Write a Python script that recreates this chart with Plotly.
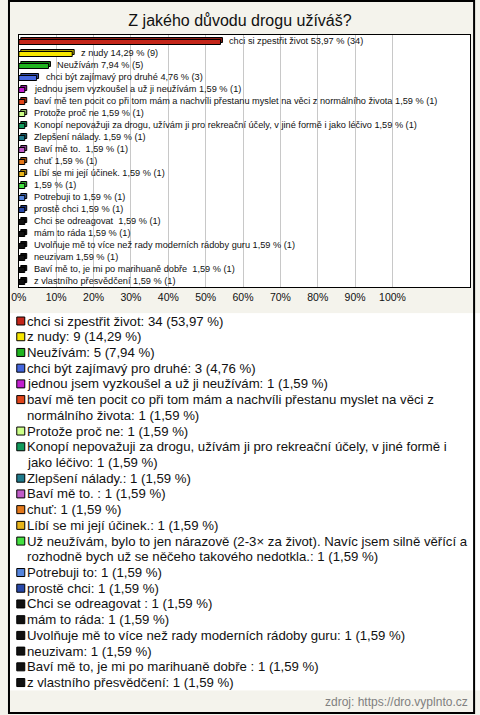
import textwrap
import plotly.graph_objects as go

# ---------------- data ----------------
title_text = "Z jakého důvodu drogu užíváš?"
categories = [
    "chci si zpestřit život",
    "z nudy",
    "Neužívám",
    "chci být zajímavý pro druhé",
    "jednou jsem vyzkoušel a už ji neužívám",
    "baví mě ten pocit co při tom mám a nachvíli přestanu myslet na věci z normálního života",
    "Protože proč ne",
    "Konopí nepovažuji za drogu, užívám ji pro rekreační účely, v jiné formě i jako léčivo",
    "Zlepšení nálady.",
    "Baví mě to. ",
    "chuť",
    "Líbí se mi její účinek.",
    "Už neužívám, bylo to jen nárazově (2-3× za život). Navíc jsem silně věřící a rozhodně bych už se něčeho takového nedotkla.",
    "Potrebuji to",
    "prostě chci",
    "Chci se odreagovat ",
    "mám to ráda",
    "Uvolňuje mě to více než rady moderních rádoby guru",
    "neuzivam",
    "Baví mě to, je mi po marihuaně dobře ",
    "z vlastního přesvědčení",
]
# names as printed next to the bars (the very long answer is left blank there)
chart_names = categories[:12] + [""] + categories[13:]
counts = [34, 9, 5, 3] + [1] * 17
percents = [53.97, 14.29, 7.94, 4.76] + [1.59] * 17
colors = [
    "#c4261a", "#f7e600", "#1fb41f", "#4466dd", "#c21fcf", "#e0441a",
    "#ccff88", "#119a5c", "#1f7a8c", "#c05cc8", "#e4781a", "#e8b41a",
    "#44e040", "#5585dd", "#2848a8", "#111111", "#111111", "#111111",
    "#111111", "#111111", "#111111",
]
tick_values = [0, 10, 20, 30, 40, 50, 60, 70, 80, 90, 100]
tick_labels = [f"{v}%" for v in tick_values]
source_text = "zdroj: https://dro.vyplnto.cz"

# ---------------- helpers ----------------
def fmt(p):
    return f"{p:.2f}".replace(".", ",")

def darker(hexcol, f=0.7):
    h = hexcol.lstrip("#")
    r, g, b = (int(h[i:i + 2], 16) for i in (0, 2, 4))
    return "#%02x%02x%02x" % (int(r * f), int(g * f), int(b * f))

W, H = 480, 715
FONT = "Liberation Sans, Arial, sans-serif"
PX0, PX1, PY0, PY1 = 11, 470, 35, 287
PX_PER_UNIT = 3.8
n = len(categories)
idx = list(range(n))
row_px = (PY1 - PY0) / n
bw = 5 / row_px
dx = 2 / PX_PER_UNIT
dy = 2 / row_px

fig = go.Figure()

# 3D-ish bars: back face (shifted up/right) and front face
fig.add_trace(go.Bar(
    orientation="h", y=idx, x=percents, base=[dx] * n,
    width=bw, offset=-1.5 / row_px - dy,
    marker=dict(color=[darker(c) for c in colors], line=dict(color="#000", width=1)),
    hoverinfo="skip", showlegend=False, xaxis="x", yaxis="y",
))
fig.add_trace(go.Bar(
    orientation="h", y=idx, x=percents,
    width=bw, offset=-1.5 / row_px,
    marker=dict(color=colors, line=dict(color="#000", width=1)),
    showlegend=False, xaxis="x", yaxis="y",
))

annotations = []
for i in idx:
    lbl = (chart_names[i] + " " if chart_names[i] else "") + f"{fmt(percents[i])} % ({counts[i]})"
    annotations.append(dict(
        x=percents[i], y=i, xref="x", yref="y", text=lbl, showarrow=False,
        xanchor="left", yanchor="middle", xshift=7, yshift=0,
        font=dict(family=FONT, size=9.2, color="#111"),
    ))

# ---------------- legend (own layout subplot, one unit = one text line) ----------------
LINE_PX = 15.72
FIRST_LINE_Y = 321
leg_lines = []
mark_y = []
k = 0
for i in idx:
    txt = f"{categories[i]}: {counts[i]} ({fmt(percents[i])} %)"
    parts = textwrap.wrap(txt, width=77, break_on_hyphens=False)
    mark_y.append(k)
    for p in parts:
        leg_lines.append((k, p))
        k += 1
total_lines = k
top_px = FIRST_LINE_Y - LINE_PX / 2
bot_px = top_px + total_lines * LINE_PX

fig.add_trace(go.Scatter(
    x=[13] * n, y=mark_y, mode="markers",
    marker=dict(symbol="square", size=8, color=colors, line=dict(color="#000", width=1)),
    hoverinfo="skip", showlegend=False, xaxis="x2", yaxis="y2",
))
for (ky, p) in leg_lines:
    annotations.append(dict(
        x=17, y=ky, xref="x2", yref="y2", text=p, showarrow=False,
        xanchor="left", yanchor="middle",
        font=dict(family=FONT, size=13.2, color="#111"),
    ))

annotations.append(dict(
    x=470 / W, y=1 - 702 / H, xref="paper", yref="paper", text=source_text,
    showarrow=False, xanchor="right", yanchor="middle",
    font=dict(family=FONT, size=12, color="#808080"),
))

fig.update_layout(
    width=W, height=H,
    margin=dict(l=0, r=0, t=0, b=0, pad=0),
    paper_bgcolor="#f4f3ec", plot_bgcolor="#ffffff",
    title=dict(text=title_text, x=0.5, xanchor="center", y=1 - 20 / H, yanchor="middle",
               font=dict(family=FONT, size=16, color="#111")),
    font=dict(family=FONT),
    barmode="overlay",
    xaxis=dict(
        domain=[PX0 / W, PX1 / W], range=[0, (PX1 - PX0) / PX_PER_UNIT],
        tickvals=tick_values, ticktext=tick_labels, ticks="",
        showgrid=True, gridcolor="#c8c8c8", gridwidth=1, zeroline=False,
        showline=True, linecolor="#000", linewidth=1, mirror=True,
        tickfont=dict(family=FONT, size=10.5, color="#111"), fixedrange=True,
    ),
    yaxis=dict(
        domain=[1 - PY1 / H, 1 - PY0 / H], range=[n - 0.5, -0.5],
        showticklabels=False, showgrid=False, zeroline=False,
        showline=True, linecolor="#000", linewidth=1, mirror=True, fixedrange=True,
    ),
    xaxis2=dict(domain=[0, 1], range=[0, W], visible=False, fixedrange=True),
    yaxis2=dict(domain=[1 - bot_px / H, 1 - top_px / H], range=[total_lines - 0.5, -0.5],
                visible=False, fixedrange=True),
    annotations=annotations,
    shapes=[dict(type="rect", xref="paper", yref="paper",
                 x0=1 / W, x1=474 / W, y0=1 - 713 / H, y1=1 - 1 / H,
                 line=dict(color="#000", width=2), fillcolor="rgba(0,0,0,0)", layer="above")],
    showlegend=False,
)

fig.write_html(
    "out.html",
    config={"displayModeBar": False},
    post_script="document.body.style.margin='0';document.body.style.padding='0';"
                "document.body.style.overflow='hidden';",
)
